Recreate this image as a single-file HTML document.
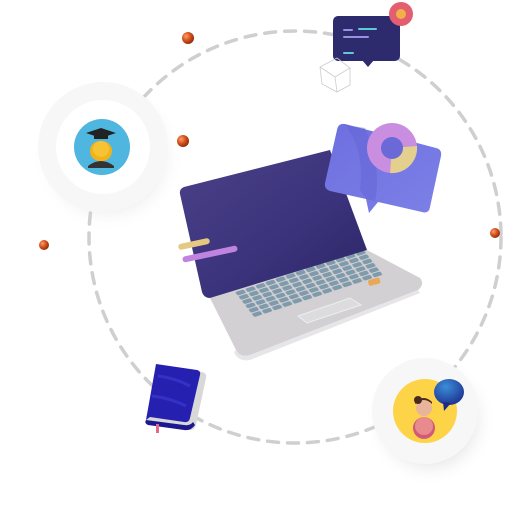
<!DOCTYPE html>
<html><head><meta charset="utf-8"><style>
html,body{margin:0;padding:0;background:#fff;width:519px;height:528px;overflow:hidden}
svg{display:block}
</style></head><body>
<svg width="519" height="528" viewBox="0 0 519 528" xmlns="http://www.w3.org/2000/svg">
<defs>
<radialGradient id="sh" cx="0.5" cy="0.5" r="0.5">
<stop offset="0.6" stop-color="#e8e8e8"/><stop offset="1" stop-color="#fff" stop-opacity="0"/>
</radialGradient>
<radialGradient id="ball" cx="0.35" cy="0.35" r="0.7">
<stop offset="0" stop-color="#f7a070"/><stop offset="0.5" stop-color="#d9531c"/><stop offset="1" stop-color="#8a2a0a"/>
</radialGradient>
<linearGradient id="scr" x1="0" y1="0" x2="1" y2="1">
<stop offset="0" stop-color="#4a4189"/><stop offset="0.6" stop-color="#3a327a"/><stop offset="1" stop-color="#2c2565"/>
</linearGradient>
<linearGradient id="card" x1="0" y1="0" x2="1" y2="1">
<stop offset="0" stop-color="#6f6fe0"/><stop offset="1" stop-color="#7b80e6"/>
</linearGradient>
<radialGradient id="blueb" cx="0.4" cy="0.3" r="0.8">
<stop offset="0" stop-color="#3a8ed8"/><stop offset="1" stop-color="#1c2a8a"/>
</radialGradient>
<pattern id="keys" width="10" height="10" patternUnits="userSpaceOnUse">
<rect x="0.8" y="1" width="8.4" height="8" rx="2" fill="#7e9aab"/>
</pattern>
</defs>

<circle cx="108" cy="156" r="76" fill="url(#sh)"/>
<circle cx="430" cy="420" r="66" fill="url(#sh)"/>

<circle cx="295" cy="237" r="206" fill="none" stroke="#cfcfcf" stroke-width="3.5" stroke-dasharray="11 9" stroke-linecap="round"/>

<circle cx="103" cy="147" r="65" fill="#f7f7f7"/>
<circle cx="103" cy="147" r="47" fill="#fff"/>
<circle cx="102" cy="147" r="28" fill="#4fb6e0"/>
<rect x="90" y="141" width="22" height="20" rx="10" fill="#f2b21a"/>
<circle cx="101" cy="149" r="8" fill="#f6c333"/>
<path d="M88 166 Q101 156 114 166 L114 168 L88 168Z" fill="#333"/>
<path d="M86 133 L101 128 L116 133 L101 138Z" fill="#222"/>
<rect x="94" y="134" width="14" height="5" fill="#222"/>

<circle cx="425" cy="411" r="53" fill="#f7f7f7"/>
<circle cx="425" cy="411" r="32" fill="#fdd448"/>
<circle cx="424" cy="428" r="11" fill="#d05a7a"/>
<circle cx="424" cy="426" r="9" fill="#e88a8e"/>
<circle cx="424" cy="408" r="8" fill="#e8b59a"/>
<circle cx="418" cy="400" r="4" fill="#4a2a20"/>
<path d="M415 404 Q424 396 432 404 L432 402 Q424 394 415 402Z" fill="#4a2a20"/>
<ellipse cx="449" cy="392" rx="15" ry="13" fill="url(#blueb)"/>
<path d="M443 402 L444 411 L451 403Z" fill="#1c2a8a"/>

<circle cx="188" cy="38" r="6" fill="url(#ball)"/>
<circle cx="183" cy="141" r="6" fill="url(#ball)"/>
<circle cx="44" cy="245" r="5" fill="url(#ball)"/>
<circle cx="495" cy="233" r="5" fill="url(#ball)"/>

<rect x="333" y="16" width="67" height="45" rx="5" fill="#2e2a6e"/>
<path d="M362 60 L368 67 L374 60Z" fill="#2e2a6e"/>
<rect x="343" y="29" width="10" height="2" rx="1" fill="#9c8ee0"/>
<rect x="358" y="28" width="19" height="2" rx="1" fill="#5ecad8"/>
<rect x="343" y="36" width="26" height="2" rx="1" fill="#9c8ee0"/>
<rect x="343" y="52" width="11" height="2" rx="1" fill="#5ecad8"/>
<circle cx="401" cy="14" r="12" fill="#e35e6e"/>
<circle cx="401" cy="14" r="5" fill="#f2b04a"/>
<g fill="none" stroke="#ccc" stroke-width="0.8">
<path d="M320 67 L337 58 L350 68 L335 77Z M320 67 L322 84 L337 92 L350 85 L350 68 M335 77 L337 92"/>
</g>

<path d="M210 298 L367 250 L420 278 Q425 284 418 290 L250 355 Q240 358 236 350Z" fill="#d2d0d3"/>
<path d="M236 350 Q240 358 250 355 L418 290 L420 293 L250 360 Q238 362 234 352Z" fill="#e6e5e7"/>
<g transform="matrix(1.0,-0.33,0.33,0.43,234,292)">
<rect x="0" y="0" width="130" height="60" fill="url(#keys)"/>
</g>
<path d="M298 316 L350 298 L361 305 L307 323Z" fill="#dcdbde" stroke="#eee" stroke-width="1"/>
<rect x="368" y="279" width="12" height="6" rx="2" fill="#e8a858" transform="rotate(-15 373 281)"/>

<path d="M184 187 L330 150 L367 250 L210 298 Q204 298 202 292 L180 194 Q179 189 184 187Z" fill="url(#scr)"/>

<rect x="178" y="241" width="32" height="6" rx="3" fill="#e5c882" transform="rotate(-12 194 244)"/>
<rect x="182" y="251" width="56" height="6" rx="3" fill="#c084e0" transform="rotate(-12 210 254)"/>

<path d="M345 124 Q338 123 337 130 L325 183 Q324 189 330 191 L366 199 L369 213 L378 202 L422 212 Q429 214 430 207 L441 156 Q442 149 436 148Z" fill="url(#card)"/>
<path d="M345 125 Q365 150 360 190 L366 199 L375 201 Q382 170 365 128Z" fill="#6464d6" opacity="0.5"/>
<circle cx="392" cy="148" r="25" fill="#c98ee0"/>
<path d="M392 148 L417 146 A25 25 0 0 1 390 173Z" fill="#e3cf8e"/>
<circle cx="392" cy="148" r="11" fill="#6b68d8"/>

<path d="M160 366 L202 372 Q207 373 206 378 L196 425 Q194 431 188 430 L150 425 Q145 424 146 419Z" fill="#d8d8d8"/>
<path d="M156 364 L197 370 Q201 371 200 375 L190 418 Q189 423 184 422 L150 417 L146 420 Z" fill="#2620b0"/>
<path d="M146 420 L184 425 Q190 426 193 422 L195 425 Q191 431 184 430 L148 425 Q144 423 146 420Z" fill="#1b1890"/>
<path d="M158 376 Q175 378 190 386 M152 396 Q170 398 186 406" stroke="#3b3bd0" stroke-width="3" fill="none" opacity="0.7"/>
<rect x="156" y="424" width="3" height="9" fill="#e06a8a"/>
</svg>
</body></html>
